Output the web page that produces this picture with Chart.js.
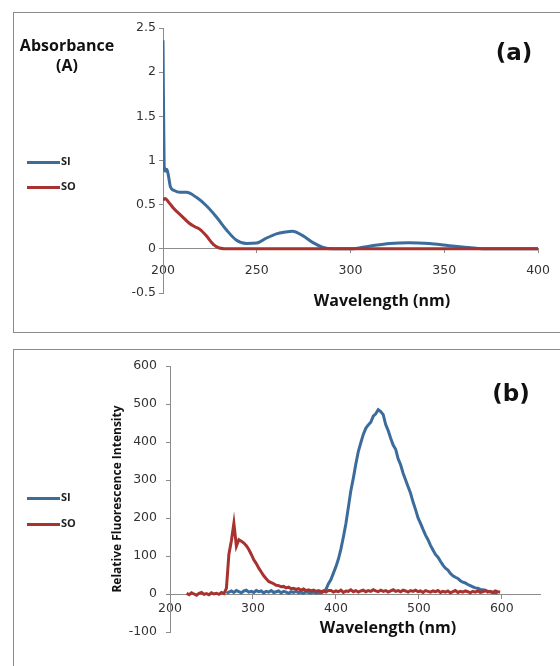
<!DOCTYPE html>
<html>
<head>
<meta charset="utf-8">
<title>SI / SO absorbance and fluorescence</title>
<script src="https://cdn.jsdelivr.net/npm/chart.js@4.4.1/dist/chart.umd.min.js"></script>
<style>
  html, body { margin: 0; padding: 0; background: #fff; }
  body { position: relative; width: 560px; height: 666px; overflow: hidden; font-family: 'Open Sans', sans-serif; color: #111; }
  .panel { position: absolute; left: 13px; width: 570px; border: 1px solid #8a8a8a; }
  #panelA { top: 12px; height: 319px; }
  #panelB { top: 349px; height: 340px; }
  canvas { position: absolute; left: 0; }
  #chartA { top: 0; }
  #chartB { top: 340px; }
  .txt { position: absolute; transform: translate(-50%, -50%); white-space: nowrap; font-weight: bold; }
  .axis-title { font-size: 16px; }
  .tag { font-family: 'DejaVu Sans', sans-serif; font-size: 23px; }
  .key { position: absolute; font-size: 11px; font-weight: bold; line-height: 14px; color: #222; }
  .key span { display: inline-block; width: 33px; height: 3px; vertical-align: middle; margin-right: 1px; }
</style>
</head>
<body>
<div class="panel" id="panelA"></div>
<div class="panel" id="panelB"></div>
<canvas id="chartA" width="560" height="340"></canvas>
<canvas id="chartB" width="560" height="326"></canvas>

<div class="txt axis-title" style="left:67px; top:45px">Absorbance</div>
<div class="txt axis-title" style="left:67px; top:65px">(A)</div>
<div class="txt tag" style="left:514px; top:52px">(a)</div>
<div class="txt axis-title" style="left:382px; top:300px">Wavelength (nm)</div>
<div class="key" style="left:27px; top:154px"><span style="background:#3b6c9c"></span>SI</div>
<div class="key" style="left:27px; top:179px"><span style="background:#a8322f"></span>SO</div>

<div class="txt tag" style="left:511px; top:393px">(b)</div>
<div class="txt axis-title" style="left:388px; top:627px">Wavelength (nm)</div>
<div class="key" style="left:27px; top:490px"><span style="background:#3b6c9c"></span>SI</div>
<div class="key" style="left:27px; top:516px"><span style="background:#a8322f"></span>SO</div>

<script>
const SI_COLOR = '#3b6c9c';
const SO_COLOR = '#a8322f';

// (a) absorbance
const absSiWavelength = [200, 200.6, 201.2, 202, 202.8, 204, 206, 209, 212.5, 218, 223, 228.5, 234, 239, 244.5, 250, 255, 260.5, 265, 269, 274.5, 280, 285, 290.5, 300, 310, 320.8, 331, 342, 352.7, 363, 374, 385, 400];
const absSiValues = [2.36, 0.95, 0.88, 0.9, 0.84, 0.7, 0.66, 0.64, 0.64, 0.58, 0.49, 0.36, 0.21, 0.1, 0.06, 0.065, 0.12, 0.17, 0.19, 0.2, 0.15, 0.07, 0.02, 0.0, 0.0, 0.03, 0.06, 0.07, 0.06, 0.035, 0.015, 0.0, 0.0, 0.0];
const absSoWavelength = [200, 201, 203.7, 206, 209, 214, 217, 219.7, 223, 226.8, 230, 236, 250, 300, 350, 400];
const absSoValues = [0.55, 0.57, 0.51, 0.45, 0.39, 0.29, 0.25, 0.22, 0.15, 0.05, 0.01, 0, 0, 0, 0, 0];
const absXTicks = [200, 250, 300, 350, 400];
const absYTicks = [-0.5, 0, 0.5, 1, 1.5, 2, 2.5];

// (b) fluorescence, one reading every 3 nm
const flWavelength = [
  220, 223, 226, 229, 232, 235, 238, 241, 244, 247, 250, 253, 256, 259, 262, 265,
  268, 271, 274, 277, 280, 283, 286, 289, 292, 295, 298, 301, 304, 307, 310, 313,
  316, 319, 322, 325, 328, 331, 334, 337, 340, 343, 346, 349, 352, 355, 358, 361,
  364, 367, 370, 373, 376, 379, 382, 385, 388, 391, 394, 397, 400, 403, 406, 409,
  412, 415, 418, 421, 424, 427, 430, 433, 436, 439, 442, 445, 448, 451, 454, 457,
  460, 463, 466, 469, 472, 475, 478, 481, 484, 487, 490, 493, 496, 499, 502, 505,
  508, 511, 514, 517, 520, 523, 526, 529, 532, 535, 538, 541, 544, 547, 550, 553,
  556, 559, 562, 565, 568, 571, 574, 577, 580, 583, 586, 589, 592, 595, 598
];
const flSiValues = [
  null, null, null, null, null, null, null, null, null, null, null, null, null, null, null, null,
  2, 5, 8, 4, 9, 6, 3, 8, 10, 5, 7, 4, 9, 6, 8, 3,
  7, 5, 9, 4, 6, 8, 3, 7, 5, 2, 6, 4, 7, 3, 5, 2,
  6, 4, 3, 5, 2, 4, 3, 6, 12, 27, 38, 55, 72, 92, 118, 150,
  185, 228, 272, 305, 342, 375, 398, 420, 436, 445, 452, 468, 474, 485, 480, 472,
  446, 430, 410, 392, 381, 356, 340, 318, 300, 282, 265, 242, 222, 200, 186, 170,
  155, 143, 128, 116, 104, 97, 86, 76, 68, 63, 54, 48, 44, 41, 35, 31,
  29, 25, 22, 19, 16, 15, 12, 11, 10, 7, 6, 4, 3, 2, null
];
const flSoValues = [
  2, -2, 3, 0, -3, 2, 4, -1, 1, -2, 3, 0, 2, -1, 4, 1,
  15, 105, 140, 186, 126, 143, 139, 134, 127, 117, 104, 90, 80, 68, 58, 48,
  40, 33, 30, 27, 23, 22, 19, 20, 16, 18, 14, 15, 12, 14, 10, 13,
  9, 11, 8, 10, 7, 9, 6, 8, 5, 9, 9, 5, 8, 6, 10, 4,
  8, 7, 11, 6, 9, 5, 8, 10, 6, 9, 7, 11, 8, 6, 10, 7,
  9, 5, 8, 11, 7, 9, 6, 10, 8, 5, 9, 7, 10, 6, 8, 4,
  9, 7, 5, 8, 6, 9, 4, 7, 5, 8, 3, 6, 9, 4, 7, 5,
  8, 6, 3, 7, 5, 8, 4, 6, 9, 5, 7, 4, 8, 6, 5
];
const flXTicks = [200, 300, 400, 500, 600];
const flYTicks = [-100, 0, 100, 200, 300, 400, 500, 600];

function toPoints(xs, ys) {
  return xs.map((x, i) => ({ x: x, y: ys[i] }));
}

function line(label, points, color, order, smooth) {
  return {
    label: label,
    data: points,
    borderColor: color,
    backgroundColor: color,
    borderWidth: 3,
    pointRadius: 0,
    cubicInterpolationMode: smooth ? 'monotone' : 'default',
    tension: 0,
    spanGaps: false,
    order: order
  };
}

function axis(min, max, tickList, pad, extra) {
  return Object.assign({
    type: 'linear',
    min: min,
    max: max,
    afterBuildTicks: s => { s.ticks = tickList.map(v => ({ value: v })); },
    grid: { display: true, drawOnChartArea: false, drawTicks: true, tickLength: 4, color: '#8c8c8c' },
    border: { display: true, color: '#8c8c8c', width: 1 },
    ticks: {
      color: '#333',
      font: { family: 'DejaVu Sans', size: 12.5 },
      padding: pad,
      maxRotation: 0,
      autoSkip: false,
      callback: v => String(v)
    }
  }, extra);
}

const common = {
  responsive: false,
  animation: false,
  events: [],
  plugins: { legend: { display: false }, tooltip: { enabled: false } }
};

new Chart(document.getElementById('chartA'), {
  type: 'line',
  data: {
    datasets: [
      line('SI', toPoints(absSiWavelength, absSiValues), SI_COLOR, 1, true),
      line('SO', toPoints(absSoWavelength, absSoValues), SO_COLOR, 0, true)
    ]
  },
  options: Object.assign({}, common, {
    layout: { padding: { left: 113, right: 21, top: 28, bottom: 47 } },
    scales: {
      x: axis(200, 400, absXTicks, 10, { position: { y: 0 } }),
      y: axis(-0.5, 2.5, absYTicks, 3, { position: 'left', afterFit: s => { s.width = 50; } })
    }
  })
});

new Chart(document.getElementById('chartB'), {
  type: 'line',
  data: {
    datasets: [
      line('SI', toPoints(flWavelength, flSiValues), SI_COLOR, 1, false),
      line('SO', toPoints(flWavelength, flSoValues), SO_COLOR, 0, false)
    ]
  },
  options: Object.assign({}, common, {
    layout: { padding: { left: 110, right: 20, top: 26, bottom: 34 } },
    scales: {
      x: axis(200, 646, flXTicks, 3, { position: { y: 0 } }),
      y: axis(-100, 600, flYTicks, 9, {
        position: 'left',
        afterFit: s => { s.width = 60; },
        title: {
          display: true,
          text: 'Relative Fluorescence Intensity',
          color: '#111',
          font: { family: 'Open Sans', size: 12, weight: 'bold' },
          padding: { top: 0, bottom: 0 }
        }
      })
    }
  })
});
</script>
</body>
</html>
